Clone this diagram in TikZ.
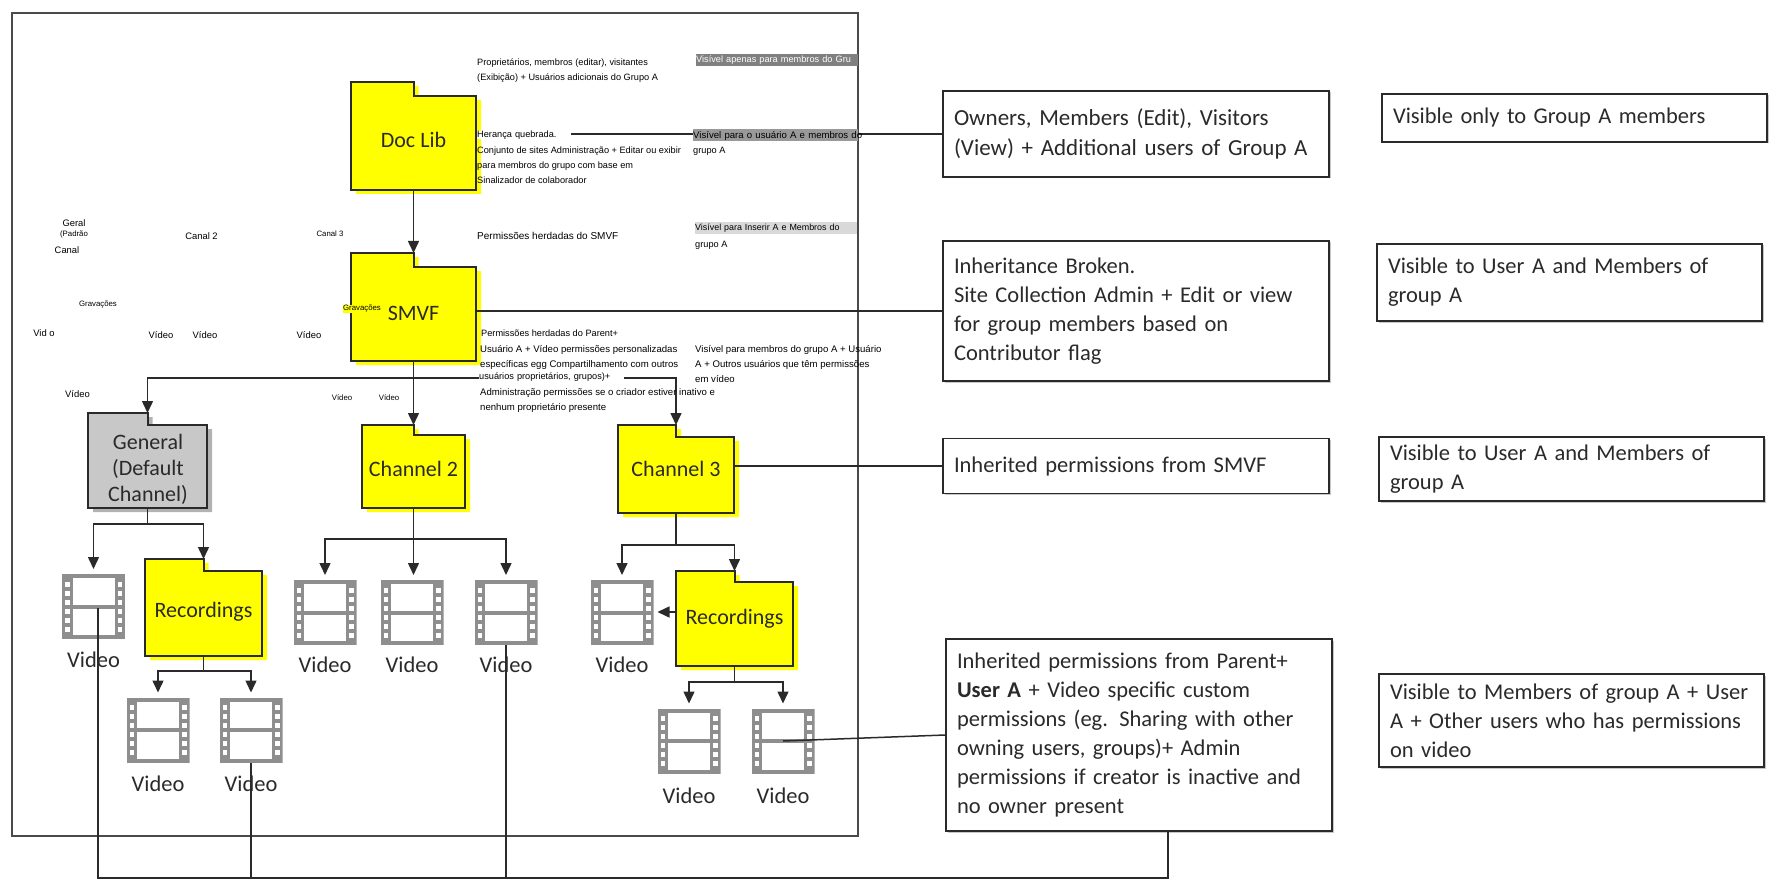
\documentclass[tikz,border=0pt]{standalone}
\usepackage{fontspec}
\setmainfont{Carlito}
\newfontfamily\ptfont{Liberation Sans}
\usetikzlibrary{arrows.meta,shadows}

\definecolor{filmgray}{RGB}{142,142,142}
\definecolor{framegray}{RGB}{74,74,74}
\definecolor{inkgray}{RGB}{42,42,42}
\definecolor{folderyellow}{RGB}{255,255,0}
\definecolor{foldergray}{RGB}{200,200,200}
\definecolor{foldershade}{RGB}{178,178,178}

\tikzset{
    wire/.style = {draw = inkgray, line width = 1.5pt},
    tip/.style = {wire, -{Triangle[length = 12pt, width = 11pt]}},
    filetip/.style = {tip, shorten > = 5pt},
    folder/.style 2 args = {minimum width = #1, minimum height = #2, inner sep = 0, outer sep = 0},
    foldertext/.style = {font = \fontsize{22}{26}\selectfont, align = center, text = inkgray, inner sep = 0},
    infobox/.style 2 args = {draw = inkgray, line width = 1.5pt, fill = white, minimum width = #1, minimum height = #2,
        text width = #1 - 22pt, inner xsep = 11pt, inner ysep = 0, align = left, text = inkgray,
        font = \fontsize{22.5}{29}\selectfont,
        copy shadow = {shadow xshift = 1.5pt, shadow yshift = -1.5pt, draw = none, fill = black!22}},
    film/.style = {minimum width = 63pt, minimum height = 65pt, inner sep = 0, outer sep = 0,
        path picture = {\filmicon}},
    filmlabel/.style = {font = \fontsize{22.5}{26}\selectfont, text = inkgray, inner sep = 0},
    pt/.style = {font = \ptfont\fontsize{9.2}{15}\selectfont, anchor = west, align = left, inner sep = 0},
    ptwide/.style = {pt, font = \ptfont\fontsize{9.6}{15}\selectfont},
    pttiny/.style = {font = \ptfont\fontsize{7.8}{10}\selectfont, inner sep = 0},
    ptmid/.style = {font = \ptfont\fontsize{9.4}{12}\selectfont, inner sep = 0},
    ptmask/.style = {pt, fill = white, text width = #1},
    ptmark/.style 2 args = {pt, fill = #1, text width = #2, minimum height = 12pt}
}

\newcommand{\filmicon}{
    \begin{scope}[shift = {(path picture bounding box.center)}]
        \fill [filmgray] (-31.5, -32.5) rectangle (31.5, 32.5);
        \fill [white] (-21, -28.5) rectangle (21, -2);
        \fill [white] (-21, 2) rectangle (21, 28.5);
        \foreach \rowy in {-25, -16, -7, 2, 11, 20} {
            \fill [white] (-28.5, \rowy) rectangle (-24, \rowy + 5);
            \fill [white] (24, \rowy) rectangle (28.5, \rowy + 5);
        }
    \end{scope}
}

\newcommand{\folderoutline}[2]{
    (#1.north west) -- (#1.north) -- ++(0, #2) coordinate (#1notch) -- (#1.east |- #1notch)
    -- (#1.south east) -- (#1.south west) -- cycle
}
\newcommand{\drawfolder}[4]{
    \fill [#3, transform canvas = {xshift = 5pt, yshift = -4pt}] \folderoutline{#1}{#2};
    \draw [draw = inkgray, line width = 2pt, fill = #4] \folderoutline{#1}{#2};
}

\begin{document}
\begin{tikzpicture}[x = 1pt, y = -1pt]
    \useasboundingbox (0, 0) rectangle (1779, 885);

    \draw [draw = framegray, line width = 1.8pt] (12, 13) rectangle (858, 836);

    \path
    (413.5, 136) node [folder = {125pt}{108pt}] (doclib) {}
    (413.5, 307) node [folder = {125pt}{108pt}] (smvf) {}
    (147.5, 460.5) node [folder = {119pt}{95pt}] (general) {}
    (413.5, 466.5) node [folder = {103pt}{83pt}] (channeltwo) {}
    (676, 469) node [folder = {116pt}{88pt}] (channelthree) {}
    (203.5, 607.5) node [folder = {117pt}{97pt}] (recordsgen) {}
    (734.5, 618.5) node [folder = {117pt}{95pt}] (recordsthree) {}

    (93.5, 606.5) node [film] (vidgen) {}
    (325, 612.5) node [film] (vidtwoa) {}
    (412, 612.5) node [film] (vidtwob) {}
    (506, 612.5) node [film] (vidtwoc) {}
    (622, 612.5) node [film] (vidthree) {}
    (158, 730) node [film] (vidreca) {}
    (251, 730) node [film] (vidrecb) {}
    (689, 741) node [film] (vidrecc) {}
    (783, 741) node [film] (vidrecd) {}

    (1136, 134) node [infobox = {386pt}{86pt}, font = \fontsize{23}{30}\selectfont] (owners)
        {Owners, Members (Edit), Visitors\\(View) + Additional users of Group A}
    (1136, 311) node [infobox = {386pt}{140pt}] (broken)
        {Inheritance Broken.\\Site Collection Admin + Edit or view\\for group members based on\\Contributor flag}
    (1136, 466) node [infobox = {386pt}{55pt}] (inherited)
        {Inherited permissions from SMVF}
    (1139, 735) node [infobox = {386pt}{192pt}] (custom)
        {Inherited permissions from Parent+\\\textbf{User A} + Video specific custom\\permissions (eg. Sharing with other\\owning users, groups)+ Admin\\permissions if creator is inactive and\\no owner present}
    (1574.5, 118) node [infobox = {385pt}{48pt}] (visone)
        {Visible only to Group A members}
    (1569.5, 282.5) node [infobox = {385pt}{77pt}] (vistwo)
        {Visible to User A and Members of\\group A}
    (1571.5, 469) node [infobox = {385pt}{64pt}] (visthree)
        {Visible to User A and Members of\\group A}
    (1571.5, 720.5) node [infobox = {385pt}{93pt}] (visfour)
        {Visible to Members of group A + User\\A + Other users who has permissions\\on video}

    (98, 608) coordinate (vidgenfoot)
    (98, 878) coordinate (busleft)
    (1168, 878) coordinate (busright)
    (1168, 831) coordinate (customfoot)
    (676, 612) coordinate (recordsleft)
    ;

    \drawfolder{doclib}{14}{folderyellow}{folderyellow}
    \drawfolder{smvf}{14}{folderyellow}{folderyellow}
    \drawfolder{general}{12}{foldershade}{foldergray}
    \drawfolder{channeltwo}{10}{folderyellow}{folderyellow}
    \drawfolder{channelthree}{12}{folderyellow}{folderyellow}
    \drawfolder{recordsgen}{12}{folderyellow}{folderyellow}
    \drawfolder{recordsthree}{11}{folderyellow}{folderyellow}

    \path
    (doclib.center) ++(0, 4) node [foldertext] (doclibname) {Doc Lib}
    (smvf.center) ++(0, 6) node [foldertext] (smvfname) {SMVF}
    (148, 469) node [foldertext] (generalname) {General\\(Default\\Channel)}
    (channeltwo.center) ++(0, 2) node [foldertext] (channeltwoname) {Channel 2}
    (channelthree.center) node [foldertext] (channelthreename) {Channel 3}
    (recordsgen.center) ++(0, 4) node [foldertext] (recordsgenname) {Recordings}
    (recordsthree.center) node [foldertext] (recordsthreename) {Recordings}

    (vidgen.south) node [filmlabel, below = 13pt] (labelgen) {Video}
    (vidtwoa.south) node [filmlabel, below = 12pt] (labeltwoa) {Video}
    (vidtwob.south) node [filmlabel, below = 12pt] (labeltwob) {Video}
    (vidtwoc.south) node [filmlabel, below = 12pt] (labeltwoc) {Video}
    (vidthree.south) node [filmlabel, below = 12pt] (labelthree) {Video}
    (vidreca.south) node [filmlabel, below = 13pt] (labelreca) {Video}
    (vidrecb.south) node [filmlabel, below = 13pt] (labelrecb) {Video}
    (vidrecc.south) node [filmlabel, below = 14pt] (labelrecc) {Video}
    (vidrecd.south) node [filmlabel, below = 14pt] (labelrecd) {Video}
    ;

    \draw [tip] (doclib.south) -- (smvf.north);
    \draw [tip] (smvf.south) -- (channeltwo.north);
    \draw [tip] (smvf.south) -- ++(0, 17) -| (general.north);
    \draw [tip] (smvf.south) -- ++(0, 17) -| (channelthree.north);

    \draw [filetip] (general.south) -- ++(0, 16) -| (vidgen.north);
    \draw [tip] (general.south) -- ++(0, 16) -| (recordsgen.north);
    \draw [filetip] (channeltwo.south) -- ++(0, 31) -| (vidtwoa.north);
    \draw [filetip] (channeltwo.south) -- (channeltwo.south |- vidtwob.north);
    \draw [filetip] (channeltwo.south) -- ++(0, 31) -| (vidtwoc.north);
    \draw [filetip] (channelthree.south) -- ++(0, 32) -| (vidthree.north);
    \draw [tip] (channelthree.south) -- ++(0, 32) -| (recordsthree.north);
    \draw [tip, shorten > = 4pt] (recordsleft) -- (vidthree.east |- recordsleft);
    \draw [filetip] (recordsgen.south) -- ++(0, 15) -| (vidreca.north);
    \draw [filetip] (recordsgen.south) -- ++(0, 15) -| (vidrecb.north);
    \draw [filetip] (recordsthree.south) -- ++(0, 16) -| (vidrecc.north);
    \draw [filetip] (recordsthree.south) -- ++(0, 16) -| (vidrecd.north);

    \draw [wire] (doclib.east |- owners.west) -- (owners.west);
    \draw [wire] (smvf.east |- broken.west) -- (broken.west);
    \draw [wire] (channelthree.east |- inherited.west) -- (inherited.west);
    \draw [wire] (vidrecd.center) -- (custom.west);

    \draw [wire] (vidgenfoot) -- (busleft) -- (busright) -- (customfoot);
    \draw [wire] (vidrecb.south) -- (vidrecb.south |- busleft);
    \draw [wire] (vidtwoc.south) -- (vidtwoc.south |- busleft);

    \begin{scope}
        \clip (696, 50) rectangle (858, 70);
        \node [ptmark = {black!50}{162pt}, text = white] (visonept) at (696, 60.5) {\mbox{Visível apenas para membros do Gru}};
    \end{scope}

    \path
    (477, 62) node [pt, anchor = north west, yshift = 3pt] (ownerspt)
        {Proprietários, membros (editar), visitantes\\(Exibição) + Usuários adicionais do Grupo A}
    (477, 135) node [ptmask = {94pt}] (brokenpta) {Herança quebrada.}
    (477, 150) node [pt, anchor = north west, yshift = 3pt] (brokenptb)
        {Conjunto de sites Administração + Editar ou exibir\\para membros do grupo com base em\\Sinalizador de colaborador}
    (477, 236) node [pt, font = \ptfont\fontsize{10}{15}\selectfont] (inheritedpt) {Permissões herdadas do SMVF}
    (481, 333) node [pt] (customlinea) {Permissões herdadas do Parent+}
    (480, 348) node [ptwide, anchor = north west, yshift = 3pt] (customlineb)
        {Usuário A + Vídeo permissões personalizadas\\específicas egg Compartilhamento com outros}
    (479, 377) node [ptmask = {145pt}] (customlinec) {usuários proprietários, grupos)+}
    (480, 391) node [ptwide, anchor = north west, yshift = 3pt] (customlined)
        {Administração permissões se o criador estiver inativo e\\nenhum proprietário presente}

    (693, 135.5) node [ptmark = {black!40}{165pt}, font = \ptfont\fontsize{9.6}{15}\selectfont] (vistwopta) {\mbox{Visível para o usuário A e membros do}}
    (693, 151) node [pt] (vistwoptb) {grupo A}
    (695, 228.5) node [ptmark = {black!15}{162pt}, font = \ptfont\fontsize{8.9}{15}\selectfont] (visthreepta) {\mbox{Visível para Inserir A e Membros do}}
    (695, 245) node [pt] (visthreeptb) {grupo A}
    (695, 348) node [ptwide, anchor = north west, yshift = 3pt] (visfourpt)
        {Visível para membros do grupo A + Usuário\\A + Outros usuários que têm permissões\\em vídeo}

    (74, 223) node [ptmid] (geral) {Geral}
    (74, 234) node [pttiny] (padrao) {(Padrão}
    (67, 250) node [ptmid] (canal) {Canal}
    (201.5, 236) node [ptmid] (canaltwo) {Canal 2}
    (330, 234) node [pttiny] (canalthree) {Canal 3}
    (98, 305) node [pttiny] (gravgen) {Gravações}
    (362, 309) node [pttiny, fill = folderyellow] (gravsmvf) {Gravações}
    (44, 333) node [ptmid] (vida) {Vid o}
    (161, 335) node [ptmid] (vidb) {Vídeo}
    (205, 335) node [ptmid] (vidc) {Vídeo}
    (309, 335) node [ptmid] (vidd) {Vídeo}
    (77.5, 394) node [ptmid] (vide) {Vídeo}
    (342, 398) node [pttiny] (vidf) {Vídeo}
    (389, 398) node [pttiny] (vidg) {Vídeo}
    ;
\end{tikzpicture}
\end{document}
